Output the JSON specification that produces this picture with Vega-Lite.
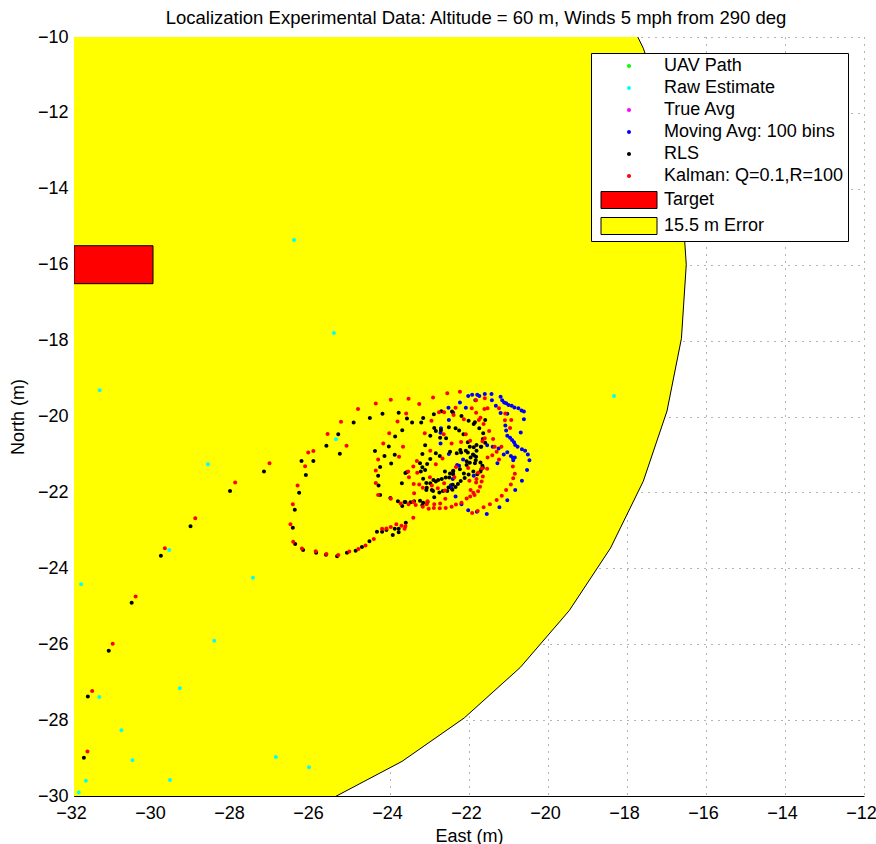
{
  "$schema": "https://vega.github.io/schema/vega-lite/v6.json",
  "width": 790,
  "height": 759,
  "autosize": "none",
  "padding": {"left": 74, "top": 37, "right": 12, "bottom": 48},
  "background": "white",
  "title": {"text": "Localization Experimental Data: Altitude = 60 m, Winds 5 mph from 290 deg", "font": "Liberation Sans", "fontSize": 18.5, "fontWeight": "normal", "color": "black", "frame": "group", "offset": 1, "dx": 7},
  "config": {
    "view": {"stroke": null},
    "font": "Liberation Sans",
    "axis": {"labelFont": "Liberation Sans", "labelFontSize": 18, "labelColor": "black", "labelFlush": false, "titleFont": "Liberation Sans", "titleFontSize": 18, "titleFontWeight": "normal", "titleColor": "black", "domainColor": "black", "ticks": false, "grid": true, "gridColor": "#444", "gridDash": [1, 6], "gridOpacity": 0.8}
  },
  "datasets": {
    "error": [
      {"series": "15.5 m Error", "x": -31.027, "y": -0.531},
      {"series": "15.5 m Error", "x": -29.096, "y": -0.774},
      {"series": "15.5 m Error", "x": -27.210, "y": -1.259},
      {"series": "15.5 m Error", "x": -25.400, "y": -1.975},
      {"series": "15.5 m Error", "x": -23.695, "y": -2.913},
      {"series": "15.5 m Error", "x": -22.120, "y": -4.057},
      {"series": "15.5 m Error", "x": -20.701, "y": -5.389},
      {"series": "15.5 m Error", "x": -19.460, "y": -6.889},
      {"series": "15.5 m Error", "x": -18.417, "y": -8.533},
      {"series": "15.5 m Error", "x": -17.588, "y": -10.294},
      {"series": "15.5 m Error", "x": -16.987, "y": -12.145},
      {"series": "15.5 m Error", "x": -16.622, "y": -14.057},
      {"series": "15.5 m Error", "x": -16.500, "y": -16.000},
      {"series": "15.5 m Error", "x": -16.622, "y": -17.943},
      {"series": "15.5 m Error", "x": -16.987, "y": -19.855},
      {"series": "15.5 m Error", "x": -17.588, "y": -21.706},
      {"series": "15.5 m Error", "x": -18.417, "y": -23.467},
      {"series": "15.5 m Error", "x": -19.460, "y": -25.111},
      {"series": "15.5 m Error", "x": -20.701, "y": -26.611},
      {"series": "15.5 m Error", "x": -22.120, "y": -27.943},
      {"series": "15.5 m Error", "x": -23.695, "y": -29.087},
      {"series": "15.5 m Error", "x": -25.400, "y": -30.025},
      {"series": "15.5 m Error", "x": -27.210, "y": -30.741},
      {"series": "15.5 m Error", "x": -29.096, "y": -31.226},
      {"series": "15.5 m Error", "x": -31.027, "y": -31.469}
    ],
    "target": [
      {"series": "Target", "x": -32, "x2": -30, "y": -16.5, "y2": -15.5}
    ],
    "points": [
      {"series": "Raw Estimate", "x": -26.43, "y": -15.35},
      {"series": "Raw Estimate", "x": -25.42, "y": -17.80},
      {"series": "Raw Estimate", "x": -18.33, "y": -19.46},
      {"series": "Raw Estimate", "x": -31.35, "y": -19.31},
      {"series": "Raw Estimate", "x": -25.37, "y": -20.60},
      {"series": "Raw Estimate", "x": -28.61, "y": -21.26},
      {"series": "Raw Estimate", "x": -29.59, "y": -23.52},
      {"series": "Raw Estimate", "x": -27.47, "y": -24.25},
      {"series": "Raw Estimate", "x": -31.82, "y": -24.42},
      {"series": "Raw Estimate", "x": -28.45, "y": -25.91},
      {"series": "Raw Estimate", "x": -29.32, "y": -27.16},
      {"series": "Raw Estimate", "x": -31.36, "y": -27.39},
      {"series": "Raw Estimate", "x": -30.80, "y": -28.27},
      {"series": "Raw Estimate", "x": -26.89, "y": -28.97},
      {"series": "Raw Estimate", "x": -30.52, "y": -29.06},
      {"series": "Raw Estimate", "x": -31.70, "y": -29.60},
      {"series": "Raw Estimate", "x": -29.57, "y": -29.58},
      {"series": "Raw Estimate", "x": -31.88, "y": -29.91},
      {"series": "Raw Estimate", "x": -26.05, "y": -29.24},
      {"series": "Moving Avg: 100 bins", "x": -22.02, "y": -19.46},
      {"series": "Moving Avg: 100 bins", "x": -21.92, "y": -19.43},
      {"series": "Moving Avg: 100 bins", "x": -21.79, "y": -19.43},
      {"series": "Moving Avg: 100 bins", "x": -21.74, "y": -19.46},
      {"series": "Moving Avg: 100 bins", "x": -21.60, "y": -19.41},
      {"series": "Moving Avg: 100 bins", "x": -21.43, "y": -19.41},
      {"series": "Moving Avg: 100 bins", "x": -21.42, "y": -19.57},
      {"series": "Moving Avg: 100 bins", "x": -21.20, "y": -19.48},
      {"series": "Moving Avg: 100 bins", "x": -21.16, "y": -19.57},
      {"series": "Moving Avg: 100 bins", "x": -21.11, "y": -19.63},
      {"series": "Moving Avg: 100 bins", "x": -21.06, "y": -19.65},
      {"series": "Moving Avg: 100 bins", "x": -21.00, "y": -19.70},
      {"series": "Moving Avg: 100 bins", "x": -20.92, "y": -19.72},
      {"series": "Moving Avg: 100 bins", "x": -20.85, "y": -19.76},
      {"series": "Moving Avg: 100 bins", "x": -20.75, "y": -19.78},
      {"series": "Moving Avg: 100 bins", "x": -20.67, "y": -19.84},
      {"series": "Moving Avg: 100 bins", "x": -20.61, "y": -19.87},
      {"series": "Moving Avg: 100 bins", "x": -21.84, "y": -19.57},
      {"series": "Moving Avg: 100 bins", "x": -22.23, "y": -19.63},
      {"series": "Moving Avg: 100 bins", "x": -22.08, "y": -19.77},
      {"series": "Moving Avg: 100 bins", "x": -21.32, "y": -19.72},
      {"series": "Moving Avg: 100 bins", "x": -21.20, "y": -19.91},
      {"series": "Moving Avg: 100 bins", "x": -21.03, "y": -19.93},
      {"series": "Moving Avg: 100 bins", "x": -22.52, "y": -19.77},
      {"series": "Moving Avg: 100 bins", "x": -22.40, "y": -19.90},
      {"series": "Moving Avg: 100 bins", "x": -22.51, "y": -20.09},
      {"series": "Moving Avg: 100 bins", "x": -20.61, "y": -20.07},
      {"series": "Moving Avg: 100 bins", "x": -21.08, "y": -20.24},
      {"series": "Moving Avg: 100 bins", "x": -21.06, "y": -20.37},
      {"series": "Moving Avg: 100 bins", "x": -20.69, "y": -20.42},
      {"series": "Moving Avg: 100 bins", "x": -22.71, "y": -20.31},
      {"series": "Moving Avg: 100 bins", "x": -22.72, "y": -20.43},
      {"series": "Moving Avg: 100 bins", "x": -21.03, "y": -20.51},
      {"series": "Moving Avg: 100 bins", "x": -20.96, "y": -20.56},
      {"series": "Moving Avg: 100 bins", "x": -20.91, "y": -20.62},
      {"series": "Moving Avg: 100 bins", "x": -20.86, "y": -20.68},
      {"series": "Moving Avg: 100 bins", "x": -20.83, "y": -20.75},
      {"series": "Moving Avg: 100 bins", "x": -20.77, "y": -20.80},
      {"series": "Moving Avg: 100 bins", "x": -20.66, "y": -20.86},
      {"series": "Moving Avg: 100 bins", "x": -20.58, "y": -20.90},
      {"series": "Moving Avg: 100 bins", "x": -20.51, "y": -21.00},
      {"series": "Moving Avg: 100 bins", "x": -20.47, "y": -21.15},
      {"series": "Moving Avg: 100 bins", "x": -20.89, "y": -21.09},
      {"series": "Moving Avg: 100 bins", "x": -20.84, "y": -21.08},
      {"series": "Moving Avg: 100 bins", "x": -20.88, "y": -21.15},
      {"series": "Moving Avg: 100 bins", "x": -20.94, "y": -21.04},
      {"series": "Moving Avg: 100 bins", "x": -21.03, "y": -20.94},
      {"series": "Moving Avg: 100 bins", "x": -21.12, "y": -21.00},
      {"series": "Moving Avg: 100 bins", "x": -21.25, "y": -20.84},
      {"series": "Moving Avg: 100 bins", "x": -21.40, "y": -20.80},
      {"series": "Moving Avg: 100 bins", "x": -21.54, "y": -20.76},
      {"series": "Moving Avg: 100 bins", "x": -22.72, "y": -20.71},
      {"series": "Moving Avg: 100 bins", "x": -22.51, "y": -20.99},
      {"series": "Moving Avg: 100 bins", "x": -22.15, "y": -21.13},
      {"series": "Moving Avg: 100 bins", "x": -22.30, "y": -21.28},
      {"series": "Moving Avg: 100 bins", "x": -21.28, "y": -21.23},
      {"series": "Moving Avg: 100 bins", "x": -20.53, "y": -21.41},
      {"series": "Moving Avg: 100 bins", "x": -21.88, "y": -21.56},
      {"series": "Moving Avg: 100 bins", "x": -22.41, "y": -21.65},
      {"series": "Moving Avg: 100 bins", "x": -20.66, "y": -21.69},
      {"series": "Moving Avg: 100 bins", "x": -22.46, "y": -21.81},
      {"series": "Moving Avg: 100 bins", "x": -22.44, "y": -21.89},
      {"series": "Moving Avg: 100 bins", "x": -20.83, "y": -21.94},
      {"series": "Moving Avg: 100 bins", "x": -22.34, "y": -22.11},
      {"series": "Moving Avg: 100 bins", "x": -21.03, "y": -22.21},
      {"series": "Moving Avg: 100 bins", "x": -22.19, "y": -22.31},
      {"series": "Moving Avg: 100 bins", "x": -21.23, "y": -22.39},
      {"series": "Moving Avg: 100 bins", "x": -22.02, "y": -22.47},
      {"series": "Moving Avg: 100 bins", "x": -21.80, "y": -22.51},
      {"series": "Moving Avg: 100 bins", "x": -21.55, "y": -22.57},
      {"series": "Moving Avg: 100 bins", "x": -22.40, "y": -21.45},
      {"series": "Moving Avg: 100 bins", "x": -22.25, "y": -21.30},
      {"series": "Moving Avg: 100 bins", "x": -21.87, "y": -21.03},
      {"series": "Moving Avg: 100 bins", "x": -21.70, "y": -20.80},
      {"series": "RLS", "x": -31.75, "y": -28.99},
      {"series": "RLS", "x": -31.65, "y": -27.38},
      {"series": "RLS", "x": -31.12, "y": -26.17},
      {"series": "RLS", "x": -30.54, "y": -24.91},
      {"series": "RLS", "x": -29.80, "y": -23.67},
      {"series": "RLS", "x": -29.05, "y": -22.89},
      {"series": "RLS", "x": -28.05, "y": -21.96},
      {"series": "RLS", "x": -27.19, "y": -21.45},
      {"series": "RLS", "x": -26.24, "y": -21.17},
      {"series": "RLS", "x": -26.30, "y": -22.01},
      {"series": "RLS", "x": -26.41, "y": -22.46},
      {"series": "RLS", "x": -26.46, "y": -22.93},
      {"series": "RLS", "x": -26.40, "y": -23.36},
      {"series": "RLS", "x": -26.20, "y": -23.52},
      {"series": "RLS", "x": -25.87, "y": -23.59},
      {"series": "RLS", "x": -25.62, "y": -23.64},
      {"series": "RLS", "x": -25.34, "y": -23.68},
      {"series": "RLS", "x": -25.09, "y": -23.59},
      {"series": "RLS", "x": -24.87, "y": -23.54},
      {"series": "RLS", "x": -24.71, "y": -23.44},
      {"series": "RLS", "x": -24.52, "y": -23.29},
      {"series": "RLS", "x": -24.33, "y": -23.04},
      {"series": "RLS", "x": -24.20, "y": -23.04},
      {"series": "RLS", "x": -24.09, "y": -22.99},
      {"series": "RLS", "x": -23.93, "y": -23.12},
      {"series": "RLS", "x": -23.88, "y": -22.96},
      {"series": "RLS", "x": -23.78, "y": -22.96},
      {"series": "RLS", "x": -23.78, "y": -23.05},
      {"series": "RLS", "x": -23.60, "y": -22.80},
      {"series": "RLS", "x": -26.13, "y": -21.54},
      {"series": "RLS", "x": -25.94, "y": -21.17},
      {"series": "RLS", "x": -25.61, "y": -20.77},
      {"series": "RLS", "x": -25.31, "y": -20.47},
      {"series": "RLS", "x": -25.27, "y": -20.98},
      {"series": "RLS", "x": -24.92, "y": -20.16},
      {"series": "RLS", "x": -24.51, "y": -20.04},
      {"series": "RLS", "x": -24.19, "y": -19.93},
      {"series": "RLS", "x": -23.78, "y": -19.90},
      {"series": "RLS", "x": -23.57, "y": -20.05},
      {"series": "RLS", "x": -23.69, "y": -20.36},
      {"series": "RLS", "x": -23.87, "y": -20.53},
      {"series": "RLS", "x": -24.03, "y": -20.79},
      {"series": "RLS", "x": -24.38, "y": -20.91},
      {"series": "RLS", "x": -24.14, "y": -21.04},
      {"series": "RLS", "x": -23.88, "y": -21.01},
      {"series": "RLS", "x": -23.97, "y": -21.24},
      {"series": "RLS", "x": -24.25, "y": -21.33},
      {"series": "RLS", "x": -24.30, "y": -21.56},
      {"series": "RLS", "x": -23.61, "y": -21.49},
      {"series": "RLS", "x": -24.29, "y": -21.82},
      {"series": "RLS", "x": -23.70, "y": -21.76},
      {"series": "RLS", "x": -24.25, "y": -22.07},
      {"series": "RLS", "x": -23.99, "y": -22.15},
      {"series": "RLS", "x": -23.80, "y": -22.23},
      {"series": "RLS", "x": -23.61, "y": -22.25},
      {"series": "RLS", "x": -23.69, "y": -22.36},
      {"series": "RLS", "x": -23.44, "y": -20.16},
      {"series": "RLS", "x": -23.21, "y": -20.16},
      {"series": "RLS", "x": -23.16, "y": -20.04},
      {"series": "RLS", "x": -22.89, "y": -19.94},
      {"series": "RLS", "x": -22.70, "y": -19.86},
      {"series": "RLS", "x": -22.43, "y": -19.87},
      {"series": "RLS", "x": -22.19, "y": -19.99},
      {"series": "RLS", "x": -22.88, "y": -20.30},
      {"series": "RLS", "x": -22.84, "y": -20.38},
      {"series": "RLS", "x": -22.71, "y": -20.36},
      {"series": "RLS", "x": -22.51, "y": -20.28},
      {"series": "RLS", "x": -22.34, "y": -20.31},
      {"series": "RLS", "x": -22.25, "y": -20.37},
      {"series": "RLS", "x": -22.14, "y": -20.47},
      {"series": "RLS", "x": -22.01, "y": -20.11},
      {"series": "RLS", "x": -21.85, "y": -20.15},
      {"series": "RLS", "x": -21.74, "y": -20.31},
      {"series": "RLS", "x": -21.59, "y": -20.09},
      {"series": "RLS", "x": -22.98, "y": -20.51},
      {"series": "RLS", "x": -22.73, "y": -20.56},
      {"series": "RLS", "x": -22.58, "y": -20.57},
      {"series": "RLS", "x": -22.03, "y": -20.68},
      {"series": "RLS", "x": -22.22, "y": -20.88},
      {"series": "RLS", "x": -21.88, "y": -20.81},
      {"series": "RLS", "x": -21.69, "y": -20.80},
      {"series": "RLS", "x": -21.59, "y": -20.69},
      {"series": "RLS", "x": -23.11, "y": -20.76},
      {"series": "RLS", "x": -23.18, "y": -20.99},
      {"series": "RLS", "x": -22.84, "y": -20.97},
      {"series": "RLS", "x": -22.74, "y": -21.04},
      {"series": "RLS", "x": -22.48, "y": -20.93},
      {"series": "RLS", "x": -22.31, "y": -20.97},
      {"series": "RLS", "x": -22.03, "y": -20.95},
      {"series": "RLS", "x": -21.96, "y": -21.08},
      {"series": "RLS", "x": -21.82, "y": -21.06},
      {"series": "RLS", "x": -22.98, "y": -21.12},
      {"series": "RLS", "x": -23.24, "y": -21.23},
      {"series": "RLS", "x": -22.06, "y": -21.18},
      {"series": "RLS", "x": -21.85, "y": -21.23},
      {"series": "RLS", "x": -21.71, "y": -21.21},
      {"series": "RLS", "x": -23.58, "y": -21.47},
      {"series": "RLS", "x": -23.22, "y": -21.45},
      {"series": "RLS", "x": -23.11, "y": -21.41},
      {"series": "RLS", "x": -21.65, "y": -21.35},
      {"series": "RLS", "x": -22.23, "y": -21.39},
      {"series": "RLS", "x": -22.61, "y": -21.45},
      {"series": "RLS", "x": -22.40, "y": -21.52},
      {"series": "RLS", "x": -22.13, "y": -21.50},
      {"series": "RLS", "x": -22.01, "y": -21.53},
      {"series": "RLS", "x": -21.89, "y": -21.45},
      {"series": "RLS", "x": -21.71, "y": -21.45},
      {"series": "RLS", "x": -23.16, "y": -21.64},
      {"series": "RLS", "x": -22.90, "y": -21.67},
      {"series": "RLS", "x": -22.78, "y": -21.67},
      {"series": "RLS", "x": -22.69, "y": -21.65},
      {"series": "RLS", "x": -22.59, "y": -21.61},
      {"series": "RLS", "x": -22.50, "y": -21.61},
      {"series": "RLS", "x": -21.79, "y": -21.52},
      {"series": "RLS", "x": -23.08, "y": -21.75},
      {"series": "RLS", "x": -22.98, "y": -21.76},
      {"series": "RLS", "x": -23.08, "y": -21.94},
      {"series": "RLS", "x": -22.94, "y": -21.94},
      {"series": "RLS", "x": -22.88, "y": -22.13},
      {"series": "RLS", "x": -23.39, "y": -22.23},
      {"series": "RLS", "x": -23.24, "y": -22.22},
      {"series": "RLS", "x": -23.63, "y": -22.25},
      {"series": "RLS", "x": -23.16, "y": -22.27},
      {"series": "RLS", "x": -23.05, "y": -22.25},
      {"series": "RLS", "x": -22.75, "y": -22.00},
      {"series": "RLS", "x": -22.66, "y": -21.96},
      {"series": "RLS", "x": -22.55, "y": -21.96},
      {"series": "RLS", "x": -22.42, "y": -21.93},
      {"series": "RLS", "x": -22.34, "y": -21.86},
      {"series": "RLS", "x": -22.28, "y": -21.78},
      {"series": "RLS", "x": -22.21, "y": -21.70},
      {"series": "RLS", "x": -22.11, "y": -21.62},
      {"series": "RLS", "x": -22.84, "y": -21.71},
      {"series": "RLS", "x": -23.07, "y": -21.88},
      {"series": "RLS", "x": -22.91, "y": -21.96},
      {"series": "RLS", "x": -21.88, "y": -20.20},
      {"series": "RLS", "x": -21.64, "y": -20.44},
      {"series": "RLS", "x": -21.65, "y": -20.59},
      {"series": "RLS", "x": -21.81, "y": -20.90},
      {"series": "RLS", "x": -21.90, "y": -21.00},
      {"series": "RLS", "x": -21.83, "y": -21.15},
      {"series": "RLS", "x": -21.66, "y": -21.30},
      {"series": "RLS", "x": -21.69, "y": -21.39},
      {"series": "RLS", "x": -23.06, "y": -21.25},
      {"series": "RLS", "x": -23.18, "y": -21.34},
      {"series": "RLS", "x": -22.48, "y": -21.50},
      {"series": "RLS", "x": -22.40, "y": -21.43},
      {"series": "RLS", "x": -22.06, "y": -21.28},
      {"series": "RLS", "x": -21.98, "y": -21.22},
      {"series": "RLS", "x": -22.20, "y": -20.95},
      {"series": "RLS", "x": -22.08, "y": -20.90},
      {"series": "RLS", "x": -21.98, "y": -20.80},
      {"series": "RLS", "x": -21.81, "y": -20.75},
      {"series": "RLS", "x": -22.52, "y": -21.87},
      {"series": "RLS", "x": -22.41, "y": -21.80},
      {"series": "RLS", "x": -23.48, "y": -22.26},
      {"series": "RLS", "x": -23.18, "y": -22.34},
      {"series": "Kalman: Q=0.1,R=100", "x": -31.66, "y": -28.83},
      {"series": "Kalman: Q=0.1,R=100", "x": -31.54, "y": -27.23},
      {"series": "Kalman: Q=0.1,R=100", "x": -31.02, "y": -25.99},
      {"series": "Kalman: Q=0.1,R=100", "x": -30.44, "y": -24.74},
      {"series": "Kalman: Q=0.1,R=100", "x": -29.70, "y": -23.47},
      {"series": "Kalman: Q=0.1,R=100", "x": -28.93, "y": -22.68},
      {"series": "Kalman: Q=0.1,R=100", "x": -27.92, "y": -21.74},
      {"series": "Kalman: Q=0.1,R=100", "x": -27.05, "y": -21.23},
      {"series": "Kalman: Q=0.1,R=100", "x": -26.34, "y": -21.82},
      {"series": "Kalman: Q=0.1,R=100", "x": -26.46, "y": -22.31},
      {"series": "Kalman: Q=0.1,R=100", "x": -26.52, "y": -22.84},
      {"series": "Kalman: Q=0.1,R=100", "x": -26.45, "y": -23.30},
      {"series": "Kalman: Q=0.1,R=100", "x": -26.23, "y": -23.48},
      {"series": "Kalman: Q=0.1,R=100", "x": -25.88, "y": -23.55},
      {"series": "Kalman: Q=0.1,R=100", "x": -25.61, "y": -23.62},
      {"series": "Kalman: Q=0.1,R=100", "x": -25.31, "y": -23.65},
      {"series": "Kalman: Q=0.1,R=100", "x": -25.03, "y": -23.56},
      {"series": "Kalman: Q=0.1,R=100", "x": -24.80, "y": -23.49},
      {"series": "Kalman: Q=0.1,R=100", "x": -24.62, "y": -23.40},
      {"series": "Kalman: Q=0.1,R=100", "x": -24.41, "y": -23.23},
      {"series": "Kalman: Q=0.1,R=100", "x": -24.20, "y": -22.96},
      {"series": "Kalman: Q=0.1,R=100", "x": -24.09, "y": -22.95},
      {"series": "Kalman: Q=0.1,R=100", "x": -23.98, "y": -22.91},
      {"series": "Kalman: Q=0.1,R=100", "x": -23.84, "y": -22.84},
      {"series": "Kalman: Q=0.1,R=100", "x": -23.71, "y": -22.88},
      {"series": "Kalman: Q=0.1,R=100", "x": -23.61, "y": -22.89},
      {"series": "Kalman: Q=0.1,R=100", "x": -23.63, "y": -22.96},
      {"series": "Kalman: Q=0.1,R=100", "x": -23.41, "y": -22.67},
      {"series": "Kalman: Q=0.1,R=100", "x": -26.15, "y": -21.31},
      {"series": "Kalman: Q=0.1,R=100", "x": -26.07, "y": -20.95},
      {"series": "Kalman: Q=0.1,R=100", "x": -25.94, "y": -20.91},
      {"series": "Kalman: Q=0.1,R=100", "x": -25.58, "y": -20.46},
      {"series": "Kalman: Q=0.1,R=100", "x": -25.24, "y": -20.14},
      {"series": "Kalman: Q=0.1,R=100", "x": -24.81, "y": -19.80},
      {"series": "Kalman: Q=0.1,R=100", "x": -24.36, "y": -19.66},
      {"series": "Kalman: Q=0.1,R=100", "x": -23.98, "y": -19.56},
      {"series": "Kalman: Q=0.1,R=100", "x": -23.53, "y": -19.53},
      {"series": "Kalman: Q=0.1,R=100", "x": -23.59, "y": -19.92},
      {"series": "Kalman: Q=0.1,R=100", "x": -23.81, "y": -20.13},
      {"series": "Kalman: Q=0.1,R=100", "x": -25.10, "y": -20.77},
      {"series": "Kalman: Q=0.1,R=100", "x": -24.02, "y": -20.44},
      {"series": "Kalman: Q=0.1,R=100", "x": -24.17, "y": -20.71},
      {"series": "Kalman: Q=0.1,R=100", "x": -23.67, "y": -20.80},
      {"series": "Kalman: Q=0.1,R=100", "x": -23.77, "y": -21.06},
      {"series": "Kalman: Q=0.1,R=100", "x": -24.30, "y": -21.13},
      {"series": "Kalman: Q=0.1,R=100", "x": -24.36, "y": -21.42},
      {"series": "Kalman: Q=0.1,R=100", "x": -24.36, "y": -21.75},
      {"series": "Kalman: Q=0.1,R=100", "x": -23.52, "y": -21.60},
      {"series": "Kalman: Q=0.1,R=100", "x": -24.30, "y": -22.07},
      {"series": "Kalman: Q=0.1,R=100", "x": -23.98, "y": -22.17},
      {"series": "Kalman: Q=0.1,R=100", "x": -23.73, "y": -22.29},
      {"series": "Kalman: Q=0.1,R=100", "x": -23.53, "y": -22.31},
      {"series": "Kalman: Q=0.1,R=100", "x": -22.91, "y": -19.50},
      {"series": "Kalman: Q=0.1,R=100", "x": -22.55, "y": -19.39},
      {"series": "Kalman: Q=0.1,R=100", "x": -22.23, "y": -19.35},
      {"series": "Kalman: Q=0.1,R=100", "x": -23.26, "y": -19.67},
      {"series": "Kalman: Q=0.1,R=100", "x": -22.34, "y": -19.77},
      {"series": "Kalman: Q=0.1,R=100", "x": -21.93, "y": -19.78},
      {"series": "Kalman: Q=0.1,R=100", "x": -21.53, "y": -19.78},
      {"series": "Kalman: Q=0.1,R=100", "x": -22.76, "y": -19.89},
      {"series": "Kalman: Q=0.1,R=100", "x": -22.63, "y": -19.89},
      {"series": "Kalman: Q=0.1,R=100", "x": -22.39, "y": -19.96},
      {"series": "Kalman: Q=0.1,R=100", "x": -21.82, "y": -19.90},
      {"series": "Kalman: Q=0.1,R=100", "x": -21.08, "y": -19.92},
      {"series": "Kalman: Q=0.1,R=100", "x": -22.95, "y": -20.11},
      {"series": "Kalman: Q=0.1,R=100", "x": -22.13, "y": -20.07},
      {"series": "Kalman: Q=0.1,R=100", "x": -21.75, "y": -20.09},
      {"series": "Kalman: Q=0.1,R=100", "x": -21.63, "y": -20.20},
      {"series": "Kalman: Q=0.1,R=100", "x": -23.12, "y": -20.44},
      {"series": "Kalman: Q=0.1,R=100", "x": -22.64, "y": -20.47},
      {"series": "Kalman: Q=0.1,R=100", "x": -22.08, "y": -20.47},
      {"series": "Kalman: Q=0.1,R=100", "x": -21.49, "y": -20.38},
      {"series": "Kalman: Q=0.1,R=100", "x": -20.93, "y": -20.09},
      {"series": "Kalman: Q=0.1,R=100", "x": -22.20, "y": -20.67},
      {"series": "Kalman: Q=0.1,R=100", "x": -22.44, "y": -20.71},
      {"series": "Kalman: Q=0.1,R=100", "x": -21.97, "y": -20.64},
      {"series": "Kalman: Q=0.1,R=100", "x": -21.66, "y": -20.65},
      {"series": "Kalman: Q=0.1,R=100", "x": -21.39, "y": -20.59},
      {"series": "Kalman: Q=0.1,R=100", "x": -22.98, "y": -20.90},
      {"series": "Kalman: Q=0.1,R=100", "x": -21.30, "y": -20.93},
      {"series": "Kalman: Q=0.1,R=100", "x": -23.32, "y": -21.17},
      {"series": "Kalman: Q=0.1,R=100", "x": -22.67, "y": -21.11},
      {"series": "Kalman: Q=0.1,R=100", "x": -21.53, "y": -21.08},
      {"series": "Kalman: Q=0.1,R=100", "x": -21.24, "y": -21.13},
      {"series": "Kalman: Q=0.1,R=100", "x": -23.41, "y": -21.32},
      {"series": "Kalman: Q=0.1,R=100", "x": -22.84, "y": -21.26},
      {"series": "Kalman: Q=0.1,R=100", "x": -22.33, "y": -21.33},
      {"series": "Kalman: Q=0.1,R=100", "x": -22.02, "y": -21.36},
      {"series": "Kalman: Q=0.1,R=100", "x": -21.54, "y": -21.38},
      {"series": "Kalman: Q=0.1,R=100", "x": -23.54, "y": -21.45},
      {"series": "Kalman: Q=0.1,R=100", "x": -23.31, "y": -21.48},
      {"series": "Kalman: Q=0.1,R=100", "x": -22.99, "y": -21.60},
      {"series": "Kalman: Q=0.1,R=100", "x": -21.65, "y": -21.58},
      {"series": "Kalman: Q=0.1,R=100", "x": -23.40, "y": -21.78},
      {"series": "Kalman: Q=0.1,R=100", "x": -22.63, "y": -21.76},
      {"series": "Kalman: Q=0.1,R=100", "x": -21.82, "y": -21.74},
      {"series": "Kalman: Q=0.1,R=100", "x": -23.17, "y": -21.88},
      {"series": "Kalman: Q=0.1,R=100", "x": -22.79, "y": -21.89},
      {"series": "Kalman: Q=0.1,R=100", "x": -22.61, "y": -21.95},
      {"series": "Kalman: Q=0.1,R=100", "x": -21.96, "y": -21.94},
      {"series": "Kalman: Q=0.1,R=100", "x": -21.72, "y": -21.85},
      {"series": "Kalman: Q=0.1,R=100", "x": -23.35, "y": -22.33},
      {"series": "Kalman: Q=0.1,R=100", "x": -23.07, "y": -22.31},
      {"series": "Kalman: Q=0.1,R=100", "x": -22.88, "y": -22.31},
      {"series": "Kalman: Q=0.1,R=100", "x": -22.73, "y": -22.29},
      {"series": "Kalman: Q=0.1,R=100", "x": -22.06, "y": -22.16},
      {"series": "Kalman: Q=0.1,R=100", "x": -22.19, "y": -22.27},
      {"series": "Kalman: Q=0.1,R=100", "x": -22.33, "y": -22.32},
      {"series": "Kalman: Q=0.1,R=100", "x": -22.44, "y": -22.38},
      {"series": "Kalman: Q=0.1,R=100", "x": -22.59, "y": -22.41},
      {"series": "Kalman: Q=0.1,R=100", "x": -22.74, "y": -22.42},
      {"series": "Kalman: Q=0.1,R=100", "x": -22.89, "y": -22.41},
      {"series": "Kalman: Q=0.1,R=100", "x": -23.02, "y": -22.43},
      {"series": "Kalman: Q=0.1,R=100", "x": -23.17, "y": -22.38},
      {"series": "Kalman: Q=0.1,R=100", "x": -21.86, "y": -22.07},
      {"series": "Kalman: Q=0.1,R=100", "x": -21.77, "y": -21.97},
      {"series": "Kalman: Q=0.1,R=100", "x": -21.82, "y": -19.57},
      {"series": "Kalman: Q=0.1,R=100", "x": -21.60, "y": -19.52},
      {"series": "Kalman: Q=0.1,R=100", "x": -21.61, "y": -19.80},
      {"series": "Kalman: Q=0.1,R=100", "x": -21.24, "y": -19.78},
      {"series": "Kalman: Q=0.1,R=100", "x": -21.71, "y": -20.03},
      {"series": "Kalman: Q=0.1,R=100", "x": -21.09, "y": -20.10},
      {"series": "Kalman: Q=0.1,R=100", "x": -20.96, "y": -20.30},
      {"series": "Kalman: Q=0.1,R=100", "x": -21.60, "y": -20.57},
      {"series": "Kalman: Q=0.1,R=100", "x": -21.35, "y": -20.80},
      {"series": "Kalman: Q=0.1,R=100", "x": -21.18, "y": -20.80},
      {"series": "Kalman: Q=0.1,R=100", "x": -21.41, "y": -21.02},
      {"series": "Kalman: Q=0.1,R=100", "x": -20.89, "y": -21.32},
      {"series": "Kalman: Q=0.1,R=100", "x": -20.84, "y": -21.51},
      {"series": "Kalman: Q=0.1,R=100", "x": -20.88, "y": -21.63},
      {"series": "Kalman: Q=0.1,R=100", "x": -20.94, "y": -21.79},
      {"series": "Kalman: Q=0.1,R=100", "x": -21.06, "y": -21.94},
      {"series": "Kalman: Q=0.1,R=100", "x": -21.17, "y": -22.09},
      {"series": "Kalman: Q=0.1,R=100", "x": -21.30, "y": -22.20},
      {"series": "Kalman: Q=0.1,R=100", "x": -21.47, "y": -22.31},
      {"series": "Kalman: Q=0.1,R=100", "x": -21.63, "y": -22.39},
      {"series": "Kalman: Q=0.1,R=100", "x": -21.78, "y": -22.49},
      {"series": "Kalman: Q=0.1,R=100", "x": -21.92, "y": -22.54},
      {"series": "Kalman: Q=0.1,R=100", "x": -21.67, "y": -21.37},
      {"series": "Kalman: Q=0.1,R=100", "x": -21.77, "y": -21.48},
      {"series": "Kalman: Q=0.1,R=100", "x": -21.81, "y": -21.65},
      {"series": "Kalman: Q=0.1,R=100", "x": -21.89, "y": -22.01},
      {"series": "Kalman: Q=0.1,R=100", "x": -21.97, "y": -22.11},
      {"series": "Kalman: Q=0.1,R=100", "x": -23.26, "y": -21.79},
      {"series": "Kalman: Q=0.1,R=100", "x": -22.94, "y": -21.82},
      {"series": "Kalman: Q=0.1,R=100", "x": -22.37, "y": -21.60},
      {"series": "Kalman: Q=0.1,R=100", "x": -21.99, "y": -21.69},
      {"series": "Kalman: Q=0.1,R=100", "x": -21.68, "y": -21.71},
      {"series": "Kalman: Q=0.1,R=100", "x": -23.39, "y": -22.02},
      {"series": "Kalman: Q=0.1,R=100", "x": -23.41, "y": -22.25},
      {"series": "Kalman: Q=0.1,R=100", "x": -23.05, "y": -22.23},
      {"series": "Kalman: Q=0.1,R=100", "x": -22.60, "y": -22.17}
    ]
  },
  "encoding": {
    "x": {"type": "quantitative", "scale": {"domain": [-32, -12], "nice": false, "zero": false}, "axis": {"title": "East (m)", "values": [-32, -30, -28, -26, -24, -22, -20, -18, -16, -14, -12], "labelPadding": 8, "labelOffset": -3, "titlePadding": 5}},
    "y": {"type": "quantitative", "scale": {"domain": [-30, -10], "nice": false, "zero": false}, "axis": {"title": "North (m)", "values": [-30, -28, -26, -24, -22, -20, -18, -16, -14, -12, -10], "labelPadding": 6, "titlePadding": 10}},
    "color": {
      "field": "series", "type": "nominal",
      "scale": {
        "domain": ["UAV Path", "Raw Estimate", "True Avg", "Moving Avg: 100 bins", "RLS", "Kalman: Q=0.1,R=100", "Target", "15.5 m Error"],
        "range": ["#00ff00", "#00ffff", "#ff00ff", "#0000ff", "#000000", "#ff0000", "#ff0000", "#ffff00"]
      },
      "legend": {
        "title": null, "orient": "top-right", "offset": 16,
        "fillColor": "white", "strokeColor": "black", "padding": 4,
        "labelFont": "Liberation Sans", "labelFontSize": 18, "labelColor": "black", "labelLimit": 400,
        "symbolSize": 100, "symbolOffset": 25, "labelOffset": 26, "rowPadding": 4,
        "symbolOpacity": 1,
        "encode": {"symbols": {"update": {"stroke": {"signal": "indexof(['Target','15.5 m Error'], datum.value) >= 0 ? 'black' : 'transparent'"}, "strokeWidth": {"value": 1}}}}
      }
    },
    "shape": {
      "field": "series", "type": "nominal",
      "scale": {
        "domain": ["UAV Path", "Raw Estimate", "True Avg", "Moving Avg: 100 bins", "RLS", "Kalman: Q=0.1,R=100", "Target", "15.5 m Error"],
        "range": ["M-0.4,0A0.4,0.4,0,1,1,0.4,0A0.4,0.4,0,1,1,-0.4,0Z", "M-0.4,0A0.4,0.4,0,1,1,0.4,0A0.4,0.4,0,1,1,-0.4,0Z", "M-0.4,0A0.4,0.4,0,1,1,0.4,0A0.4,0.4,0,1,1,-0.4,0Z", "M-0.4,0A0.4,0.4,0,1,1,0.4,0A0.4,0.4,0,1,1,-0.4,0Z", "M-0.4,0A0.4,0.4,0,1,1,0.4,0A0.4,0.4,0,1,1,-0.4,0Z", "M-0.4,0A0.4,0.4,0,1,1,0.4,0A0.4,0.4,0,1,1,-0.4,0Z", "M-5.6,-1.7H5.6V1.7H-5.6Z", "M-5.6,-1.7H5.6V1.7H-5.6Z"]
      },
      "legend": null
    }
  },
  "layer": [
    {
      "data": {"name": "error"},
      "mark": {"type": "area", "orient": "horizontal", "clip": true, "stroke": "black", "strokeWidth": 1, "opacity": 1},
      "encoding": {
        "x": {"field": "x", "type": "quantitative"},
        "x2": {"datum": -33},
        "y": {"field": "y", "type": "quantitative"},
        "shape": null
      }
    },
    {
      "data": {"name": "target"},
      "mark": {"type": "rect", "clip": true, "stroke": "black", "strokeWidth": 1, "opacity": 1},
      "encoding": {
        "x": {"field": "x", "type": "quantitative"},
        "x2": {"field": "x2"},
        "y": {"field": "y", "type": "quantitative"},
        "y2": {"field": "y2"},
        "shape": null
      }
    },
    {
      "data": {"name": "points"},
      "mark": {"type": "point", "filled": true, "size": 100, "opacity": 1, "strokeWidth": 0, "clip": true},
      "encoding": {
        "x": {"field": "x", "type": "quantitative"},
        "y": {"field": "y", "type": "quantitative"}
      }
    }
  ]
}
